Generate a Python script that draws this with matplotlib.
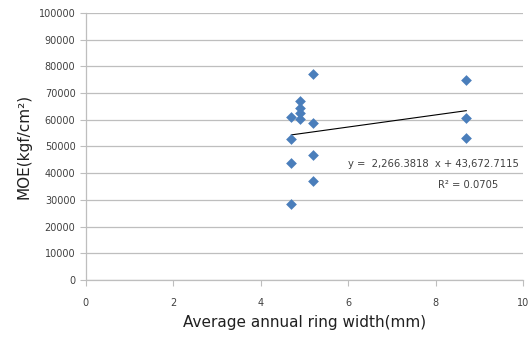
import numpy as np
import matplotlib.pyplot as plt

# average annual ring width (mm) and MOE (kgf/cm2)
ring_width = [4.7, 4.7, 4.7, 4.7,
              4.9, 4.9, 4.9, 4.9,
              5.2, 5.2, 5.2, 5.2,
              8.7, 8.7, 8.7]
moe = [61000, 52800, 43800, 28500,
       67000, 64400, 62500, 60300,
       77200, 58800, 46800, 37100,
       74900, 60700, 53200]

slope = 2266.3818
intercept = 43672.7115
r2 = 0.0705

fig = plt.figure(figsize=(5.3, 3.39), dpi=100)
ax = fig.add_axes([0.162, 0.174, 0.825, 0.788])

grid_c = '#BEBEBE'
text_c = '#404040'

ax.scatter(ring_width, moe, marker='D', s=30, color='#4A7EBB', zorder=3, linewidths=0)

xs = np.array([min(ring_width), max(ring_width)])
ax.plot(xs, slope * xs + intercept, color='black', lw=0.8, zorder=2)

ax.text(7.95, 43400, 'y =  2,266.3818  x + 43,672.7115', ha='center', va='center',
        fontsize=7.2, color=text_c)
ax.text(8.75, 35600, 'R² = 0.0705', ha='center', va='center', fontsize=7.2, color=text_c)

ax.set_xlim(0, 10)
ax.set_ylim(0, 100000)
ax.set_xticks(np.arange(0, 11, 2))
ax.set_yticks(np.arange(0, 100001, 10000))
ax.yaxis.grid(True, color=grid_c, lw=0.9)
ax.set_axisbelow(True)

for s in ['top', 'right']:
    ax.spines[s].set_visible(False)
for s in ['left', 'bottom']:
    ax.spines[s].set_color(grid_c)
    ax.spines[s].set_linewidth(0.9)

ax.tick_params(axis='both', colors=grid_c, labelcolor=text_c, labelsize=7, length=4)
ax.tick_params(axis='x', pad=9)

ax.set_xlabel('Average annual ring width(mm)', fontsize=11, color='#202020', labelpad=5)
ax.set_ylabel('MOE(kgf/cm²)', fontsize=11, color='#202020', labelpad=5)

fig.savefig('out.png', dpi=100)
